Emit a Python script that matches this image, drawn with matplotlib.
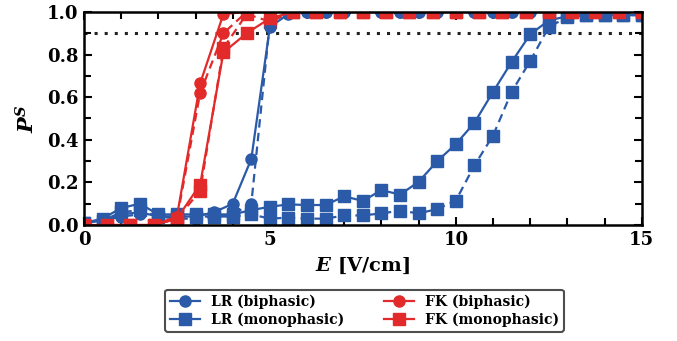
import matplotlib
matplotlib.use("Agg")
import matplotlib.pyplot as plt
import numpy as np

plt.rcParams['font.family'] = ['DejaVu Serif']
plt.rcParams['mathtext.fontset'] = 'dejavuserif'

# field strength grids
E_lr = np.arange(0, 15.01, 0.5)
E_fk = np.arange(0, 15.01, 0.625)

# LR model
lr_bi = [0.01, 0.02, 0.05, 0.06, 0.04, 0.04, 0.04, 0.06, 0.10, 0.31, 0.93, 0.99,
         1.0, 1.0, 1.0, 1.0, 1.0, 1.0, 1.0, 1.0, 1.0, 1.0, 1.0, 1.0, 1.0, 1.0,
         1.0, 1.0, 1.0, 1.0, 1.0]
lr_bi_d = [0.01, 0.02, 0.04, 0.05, 0.04, 0.03, 0.03, 0.04, 0.05, 0.10, 0.95, 1.0,
           1.0, 1.0, 1.0, 1.0, 1.0, 1.0, 1.0, 1.0, 1.0, 1.0, 1.0, 1.0, 1.0, 1.0,
           1.0, 1.0, 1.0, 1.0, 1.0]
lr_mono = [0.01, 0.03, 0.08, 0.10, 0.05, 0.05, 0.05, 0.05, 0.05, 0.07, 0.086, 0.097,
           0.094, 0.094, 0.135, 0.113, 0.164, 0.143, 0.203, 0.30, 0.38, 0.48, 0.625,
           0.765, 0.895, 0.96, 0.98, 0.985, 0.985, 0.985, 0.985]
lr_mono_d = [0.01, 0.02, 0.06, 0.07, 0.04, 0.04, 0.04, 0.04, 0.04, 0.05, 0.03, 0.035,
             0.03, 0.03, 0.045, 0.045, 0.055, 0.067, 0.055, 0.075, 0.115, 0.28, 0.42,
             0.625, 0.77, 0.93, 0.975, 0.985, 0.985, 0.985, 0.985]

# FK model
fk_bi = [0, 0, 0, 0, 0.04, 0.665, 0.99, 1.0, 1.0, 1.0, 1.0, 1.0, 1.0, 1.0, 1.0,
         1.0, 1.0, 1.0, 1.0, 1.0, 1.0, 1.0, 1.0, 1.0, 1.0]
fk_bi_d = [0, 0, 0, 0, 0.03, 0.62, 0.90, 1.0, 1.0, 1.0, 1.0, 1.0, 1.0, 1.0, 1.0,
           1.0, 1.0, 1.0, 1.0, 1.0, 1.0, 1.0, 1.0, 1.0, 1.0]
fk_mono = [0, 0, 0, 0, 0.03, 0.19, 0.81, 0.90, 0.97, 1.0, 1.0, 1.0, 1.0, 1.0, 1.0,
           1.0, 1.0, 1.0, 1.0, 1.0, 1.0, 1.0, 1.0, 1.0, 1.0]
fk_mono_d = [0, 0, 0, 0, 0.03, 0.16, 0.83, 0.99, 0.955, 1.0, 1.0, 1.0, 1.0, 1.0, 1.0,
             1.0, 1.0, 1.0, 1.0, 1.0, 1.0, 1.0, 1.0, 1.0, 1.0]

threshold = 0.9

blue = '#2a5aa8'
red = '#e32a2a'
dash = (0, (3.8, 2.4))

fig = plt.figure(figsize=(6.77, 3.41), dpi=100)
ax = fig.add_axes([0.124, 0.340, 0.824, 0.625])

ax.axhline(threshold, color='#222222', lw=2.2, linestyle=(0, (1, 2.3)),
           dash_capstyle='butt', zorder=1)

lw = 1.6
ax.plot(E_lr, lr_bi_d, color=blue, ls=dash, lw=lw, marker='o', ms=8, clip_on=True)
ax.plot(E_lr, lr_mono_d, color=blue, ls=dash, lw=lw, marker='s', ms=9, clip_on=True)
ax.plot(E_fk, fk_bi_d, color=red, ls=dash, lw=lw, marker='o', ms=8, clip_on=True)
ax.plot(E_fk, fk_mono_d, color=red, ls=dash, lw=lw, marker='s', ms=9, clip_on=True)
ax.plot(E_lr, lr_bi, color=blue, lw=lw, marker='o', ms=8, label='LR (biphasic)')
ax.plot(E_lr, lr_mono, color=blue, lw=lw, marker='s', ms=9, label='LR (monophasic)')
ax.plot(E_fk, fk_bi, color=red, lw=lw, marker='o', ms=8, label='FK (biphasic)')
ax.plot(E_fk, fk_mono, color=red, lw=lw, marker='s', ms=9, label='FK (monophasic)')

ax.set_xlim(0, 15)
ax.set_ylim(0, 1)
ax.set_xticks([0, 5, 10, 15])
ax.set_xticks(np.arange(0, 15.1, 1), minor=True)
ax.set_yticks(np.arange(0, 1.01, 0.2))
ax.set_yticks(np.arange(0, 1.01, 0.1), minor=True)
ax.set_yticklabels(['%.1f' % v for v in np.arange(0, 1.01, 0.2)])
ax.tick_params(which='both', direction='in', top=True, right=True, width=1.5,
               labelsize=13, pad=4)
ax.tick_params(which='major', length=6)
ax.tick_params(which='minor', length=5)
for lab in ax.get_xticklabels() + ax.get_yticklabels():
    lab.set_fontweight('bold')
for s in ax.spines.values():
    s.set_linewidth(1.8)
    s.set_zorder(5)

ax.set_xlabel(r'$\mathbfit{E}$ [V/cm]', fontsize=14, fontweight='bold', labelpad=5)
ax.set_ylabel(r'$\mathbfit{P}^{\mathbfit{S}}$', fontsize=15, labelpad=6)

handles, labels = ax.get_legend_handles_labels()
leg = ax.legend(handles, labels,
                loc='upper center', bbox_to_anchor=(0.503, -0.27), ncol=2,
                prop={'weight': 'bold', 'size': 10},
                frameon=True, fancybox=True, edgecolor='#222222',
                columnspacing=2.8, handlelength=2.2, borderpad=0.35,
                labelspacing=0.3)
leg.get_frame().set_linewidth(1.5)

fig.savefig('out.png', dpi=100)
